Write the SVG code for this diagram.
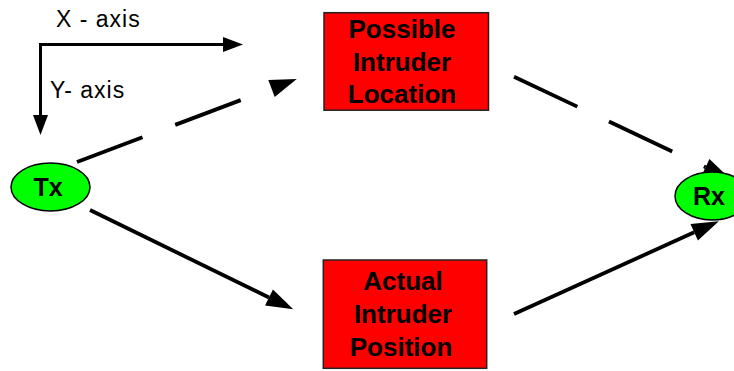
<svg xmlns="http://www.w3.org/2000/svg" width="734" height="371" viewBox="0 0 734 371">
  <style>
    .lbl { font-family: "Liberation Sans", Arial, sans-serif; fill: #000; }
    .ax { font-size: 23px; letter-spacing: 1px; }
    .box { fill: #ff0000; stroke: #222; stroke-width: 1.5; }
    .btxt { font-size: 26px; font-weight: bold; text-anchor: middle; }
    .node { fill: #00ff00; stroke: #000; stroke-width: 1.5; }
    .ntxt { font-size: 25px; font-weight: bold; text-anchor: middle; }
    .axis { fill: none; stroke: #000; stroke-width: 3; }
    .conn { fill: none; stroke: #000; stroke-width: 3.8; }
    .dash { stroke-dasharray: 70 35; }
  </style>
  <defs>
    <marker id="big" markerUnits="userSpaceOnUse" markerWidth="30" markerHeight="20" refX="0" refY="9" orient="auto" overflow="visible">
      <path d="M0,0 L27,9 L0,18 z" fill="#000"/>
    </marker>
    <marker id="small" markerUnits="userSpaceOnUse" markerWidth="22" markerHeight="16" refX="0" refY="7.5" orient="auto" overflow="visible">
      <path d="M0,0 L20,7.5 L0,15 z" fill="#000"/>
    </marker>
  </defs>

  <g id="axes">
    <path class="axis" d="M41,44.5 H223" marker-end="url(#small)"/>
    <path class="axis" d="M40.5,43 V115" marker-end="url(#small)"/>
    <text class="lbl ax" x="56" y="27">X - axis</text>
    <text class="lbl ax" x="50" y="97.5">Y- axis</text>
  </g>

  <g id="connectors">
    <path class="conn dash" d="M77,162 L271.5,88.5" marker-end="url(#big)"/>
    <path class="conn dash" d="M514,76.7 L705.6,167.2" marker-end="url(#big)"/>
    <path class="conn" d="M90,210 L269,297.5" marker-end="url(#big)"/>
    <path class="conn" d="M514,314 L694.2,232.3" marker-end="url(#big)"/>
  </g>

  <g id="possible">
    <rect class="box" x="324" y="12.7" width="164.5" height="97.5"/>
    <text class="lbl btxt" x="402" y="38.3">Possible</text>
    <text class="lbl btxt" x="402" y="70.5">Intruder</text>
    <text class="lbl btxt" x="402" y="103">Location</text>
  </g>

  <g id="actual">
    <rect class="box" x="323.3" y="260" width="163.4" height="108.3"/>
    <text class="lbl btxt" x="403" y="290">Actual</text>
    <text class="lbl btxt" x="403" y="323">Intruder</text>
    <text class="lbl btxt" x="401" y="355.5">Position</text>
  </g>

  <g id="tx">
    <ellipse class="node" cx="50.5" cy="187" rx="39.5" ry="24"/>
    <text class="lbl ntxt" x="48" y="195.5">Tx</text>
  </g>

  <g id="rx">
    <ellipse class="node" cx="712" cy="196" rx="37" ry="24"/>
    <text class="lbl ntxt" x="709" y="205">Rx</text>
  </g>
</svg>
